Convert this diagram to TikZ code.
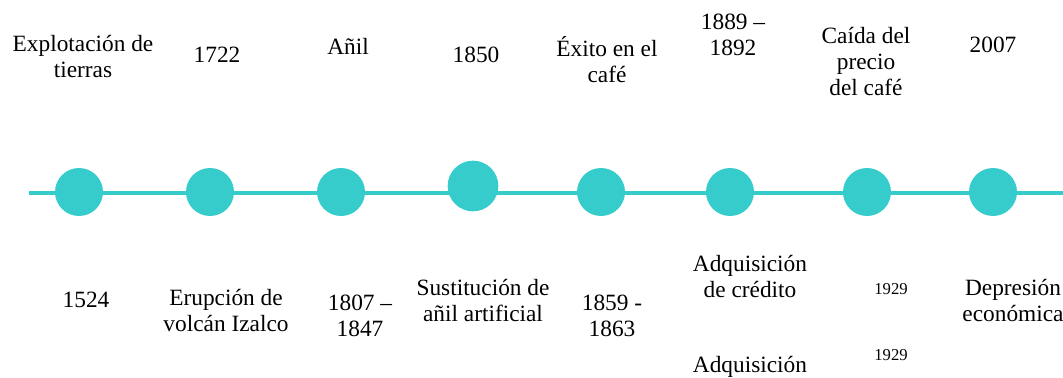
\documentclass[tikz,border=0pt]{standalone}
\usepackage{fontspec}
\setmainfont{Liberation Serif}
\newfontfamily\romana{Liberation Serif}
\usepackage{xcolor}
\usepackage{tikz}
\definecolor{linea}{RGB}{54,204,204}

\begin{document}
\begin{tikzpicture}[x=0.75pt, y=-0.75pt,
  punto/.style={circle, fill=linea, inner sep=0pt, minimum size=36pt},
  eje/.style={draw=linea, line width=3.6pt},
  texto/.style={align=center, inner sep=0pt, font=\romana\fontsize{17.5}{19.5}\selectfont},
  chico/.style={inner sep=0pt, font=\romana\fontsize{12.5}{14}\selectfont}]
\useasboundingbox (0, 0) rectangle (1063, 378);
\clip (0, 0) rectangle (1063, 378);
\coordinate (ini) at (29, 193);
\coordinate (fin) at (1070, 193);
\draw[eje] (ini) -- (fin);
\node[punto] (p1) at (79, 192) {};
\node[punto] (p2) at (210, 192) {};
\node[punto] (p3) at (341, 192) {};
\node[punto, minimum size=38pt] (p4) at (473, 186) {};
\node[punto] (p5) at (601, 192) {};
\node[punto] (p6) at (730, 192) {};
\node[punto] (p7) at (867, 192) {};
\node[punto] (p8) at (993, 192) {};
\node[texto] (t1) at (83, 57) {Explotación de\\tierras};
\node[texto] (t2) at (217, 55) {1722};
\node[texto] (t3) at (348, 46) {Añil};
\node[texto] (t4) at (476, 55) {1850};
\node[texto] (t5) at (607, 60) {Éxito en el\\café};
\node[texto] (t6) at (733, 35) {1889 –\\1892};
\node[texto] (t7) at (866, 62) {Caída del\\precio\\del café};
\node[texto] (t8) at (993, 45) {2007};
\node[texto] (b1) at (86, 300) {1524};
\node[texto] (b2) at (226, 310) {Erupción de\\volcán Izalco};
\node[texto] (b3) at (360, 316) {1807 –\\1847};
\node[texto] (b4) at (483, 300) {Sustitución de\\añil artificial};
\node[texto] (b5) at (612, 316) {1859 -\\1863};
\node[texto] (b6) at (750, 276) {Adquisición\\de crédito};
\node[chico] (b7) at (891, 289) {1929};
\node[texto] (b8) at (1013, 300) {Depresión\\económica};
\node[chico] (b9) at (891, 355) {1929};
\node[texto] (b10) at (750, 367) {Adquisición};
\end{tikzpicture}
\end{document}
